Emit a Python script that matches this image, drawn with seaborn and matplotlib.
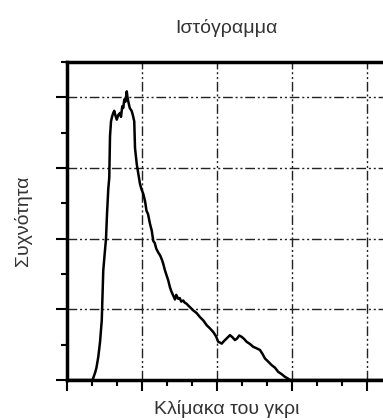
import numpy as np
import pandas as pd
import seaborn as sns
import matplotlib.pyplot as plt
from matplotlib.ticker import MultipleLocator

# ---- data (grey level vs frequency) ----
gray = [0, 10, 20.5, 21.0, 22.4, 23.5, 25.0, 26.4, 27.8, 29.0, 30.0, 31.2,
        32.0, 33.0, 33.8, 34.4, 35.2, 36.0, 37.0, 37.8, 38.8, 39.8, 41.0,
        42.4, 43.2, 44.2, 45.0, 45.8, 46.8, 47.8, 48.4, 49.0, 50.2, 51.8,
        52.8, 53.8, 54.4, 55.8, 57.0, 58.4, 59.6, 61.0, 62.4, 63.6, 64.8,
        66.4, 67.8, 69.0, 70.2, 71.4, 73.0, 74.6, 76.0, 77.0, 78.4, 79.6,
        81.0, 82.4, 83.6, 85.0, 86.4, 87.4, 89.0, 90.2, 91.4, 93.0, 94.2,
        95.6, 97.0, 99.0, 101.0, 103.6, 106.4, 109.2, 111.8, 114.4, 117.0,
        119.2, 121.0, 122.4, 123.8, 125.0, 126.4, 128.4, 130.4, 132.4, 134.4,
        136.2, 137.8, 139.8, 141.8, 143.8, 146.4, 149.0, 151.6, 154.4, 156.4,
        158.4, 161.0, 163.8, 166.4, 169.0, 171.6, 174.4, 176.4, 178.4, 185,
        255]
freq = [0, 0, 0, 6, 20, 34, 65, 107, 169, 310, 352, 400,
        470, 540, 573, 690, 732, 745, 756, 762, 748, 737, 750,
        756, 745, 775, 770, 794, 788, 817, 800, 789, 770, 761,
        748, 732, 657, 611, 585, 555, 540, 527, 507, 479, 470,
        442, 423, 394, 388, 372, 361, 352, 340, 329, 310, 297,
        282, 262, 250, 239, 228, 241, 230, 232, 222, 225, 219,
        216, 211, 204, 197, 190, 178, 168, 155, 146, 136, 124,
        108, 106, 103, 108, 113, 120, 127, 121, 113, 118, 126,
        122, 116, 108, 102, 94, 90, 85, 74, 61, 52, 42, 35,
        23, 17, 9, 5, 0, 0, 0]

title = "Ιστόγραμμα"
xlabel = "Κλίμακα του γκρι"
ylabel = "Συχνότητα"

df = pd.DataFrame({"gray": gray, "freq": freq})

sns.set_style("white")
plt.rcParams["font.family"] = ["Liberation Sans", "DejaVu Sans"]

fig = plt.figure(figsize=(3.83, 4.2), dpi=100)
ax = fig.add_axes([0.175, 0.0952, 0.832, 0.757])

sns.lineplot(data=df, x="gray", y="freq", color="black", linewidth=1.8, ax=ax)

ax.set_xlim(0, 255)
ax.set_ylim(0, 900)
ax.xaxis.set_major_locator(MultipleLocator(60))
ax.xaxis.set_minor_locator(MultipleLocator(20))
ax.yaxis.set_major_locator(MultipleLocator(200))
ax.yaxis.set_minor_locator(MultipleLocator(100))
ax.set_xticklabels([])
ax.set_yticklabels([])

# dash-dot-dot grid
ax.grid(True, which="major", color="#222222", linewidth=1.0,
        linestyle=(0, (7, 2, 1.5, 2, 1.5, 2)))
ax.set_axisbelow(True)

ax.tick_params(which="major", direction="out", length=8, width=1.5, color="black")
ax.tick_params(which="minor", direction="out", length=4, width=1.5, color="black")
ax.tick_params(left=True, bottom=True, which="both")

for side in ["left", "bottom", "top"]:
    ax.spines[side].set_linewidth(2.5)
    ax.spines[side].set_color("black")
ax.spines["right"].set_visible(False)

ax.set_title(title, fontsize=14, color="#333333", pad=21)
ax.set_xlabel(xlabel, fontsize=14, color="#333333", labelpad=3)
ax.set_ylabel(ylabel, fontsize=14, color="#333333", labelpad=14)

fig.savefig("out.png", dpi=100)
